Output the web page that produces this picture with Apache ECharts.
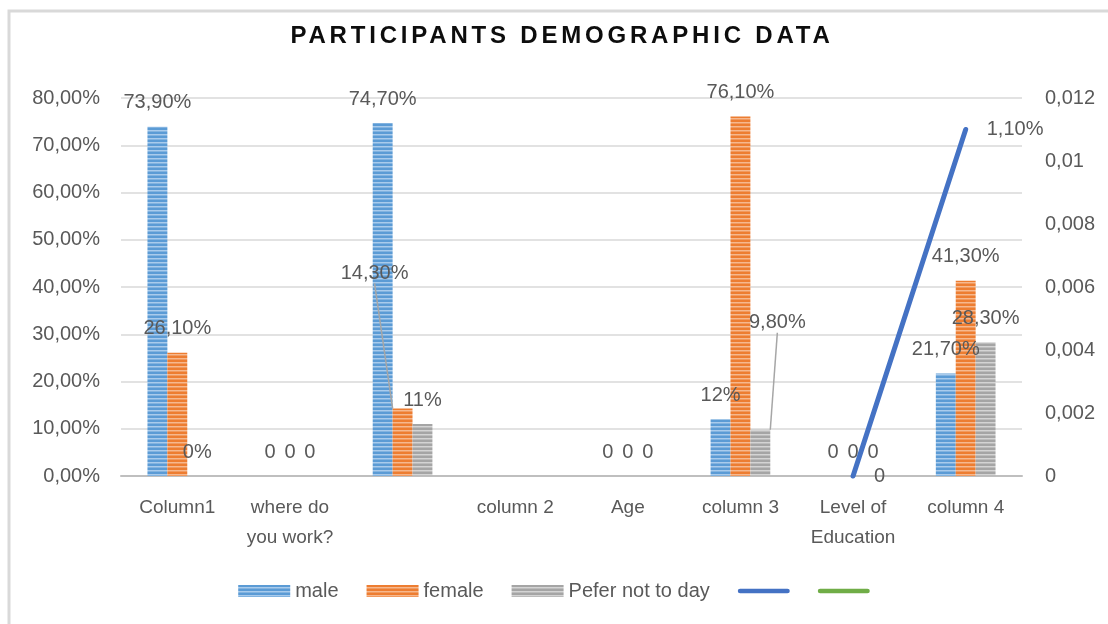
<!DOCTYPE html>
<html>
<head>
<meta charset="utf-8">
<script src="https://cdn.jsdelivr.net/npm/echarts@6/dist/echarts.min.js"></script>
<style>
  html, body { margin: 0; padding: 0; background: #fff; }
  #main { width: 1108px; height: 624px; }
</style>
</head>
<body>
<div id="main"></div>
<script>
const categories = ['Column1', 'where do\nyou work?', '', 'column 2', 'Age', 'column 3', 'Level of\nEducation', 'column 4'];

const male = [0.739, 0, 0.747, null, 0, 0.12, 0, 0.217];
const female = [0.261, 0, 0.143, null, 0, 0.761, 0, 0.413];
const preferNot = [0, 0, 0.11, null, 0, 0.098, 0, 0.283];
const lineVals = [null, null, null, null, null, null, 0, 0.011];

const maleLabels = ['73,90%', '0', '74,70%', '', '0', '12%', '0', '21,70%'];
const femaleLabels = ['26,10%', '0', '14,30%', '', '0', '76,10%', '0', '41,30%'];
const preferLabels = ['0%', '0', '11%', '', '0', '9,80%', '0', '28,30%'];
const lineLabels = ['', '', '', '', '', '', '0', '1,10%'];

const FONT = 'Liberation Sans, Arial, sans-serif';
const TXT = '#595959';

function stripes(base, light) {
    const c = document.createElement('canvas');
    c.width = 4; c.height = 4;
    const ctx = c.getContext('2d');
    ctx.fillStyle = base;
    ctx.fillRect(0, 0, 4, 4);
    ctx.fillStyle = light;
    ctx.fillRect(0, 2, 4, 1.5);
    return { image: c, repeat: 'repeat' };
}

const blueFill = stripes('#5b9bd5', '#a9cbec');
const orangeFill = stripes('#ed7d31', '#f6b88e');
const grayFill = stripes('#a5a5a5', '#d4d4d4');

// labels that Excel pulled away from their bars, with a leader line
const movedLabels = {
    '1-2': { dx: -28, dy: -111 },
    '2-5': { dx: 17, dy: -83 }
};

// thin rounded stroke used as legend icon for the two line series
const lineIcon = 'path://M2.5,0 L53.5,0 A2.5,2.5 0 0 1 53.5,5 L2.5,5 A2.5,2.5 0 0 1 2.5,0 Z';

function barSeries(name, vals, labels, fill, sIdx) {
    return {
        name: name,
        type: 'bar',
        barGap: '0%',
        barCategoryGap: '47%',
        itemStyle: { color: fill },
        data: vals.map((v, i) => {
            const item = { value: v };
            if (movedLabels[sIdx + '-' + i]) {
                item.labelLine = { show: true, showAbove: true, lineStyle: { color: '#a6a6a6', width: 1.5 } };
            }
            return item;
        }),
        label: {
            show: true,
            position: 'top',
            distance: 14,
            color: TXT,
            fontFamily: FONT,
            fontSize: 20,
            formatter: p => labels[p.dataIndex]
        }
    };
}

function lineSeries(name, vals, color) {
    return {
        name: name,
        type: 'line',
        yAxisIndex: 1,
        z: 6,
        clip: false,
        symbol: 'circle',
        symbolSize: 0.1,
        showSymbol: true,
        lineStyle: { color: color, width: 5, cap: 'round' },
        itemStyle: { color: color },
        data: vals,
        label: {
            show: true,
            position: 'right',
            distance: 21,
            color: TXT,
            fontFamily: FONT,
            fontSize: 20,
            formatter: p => lineLabels[p.dataIndex]
        }
    };
}

const chart = echarts.init(document.getElementById('main'));

const option = {
    backgroundColor: '#fff',
    animation: false,
    textStyle: { fontFamily: FONT },
    graphic: [{
        type: 'rect',
        shape: { x: 9, y: 11, width: 1200, height: 700 },
        style: { fill: 'none', stroke: '#d9d9d9', lineWidth: 3 },
        silent: true
    }],
    title: {
        text: 'PARTICIPANTS DEMOGRAPHIC DATA',
        zlevel: 1,
        left: 557,
        top: 19,
        textAlign: 'center',
        textStyle: { fontFamily: FONT, fontSize: 24, fontWeight: 'bold', color: '#0d0d0d' }
    },
    legend: {
        bottom: 18,
        left: 'center',
        itemWidth: 52,
        itemHeight: 12,
        itemGap: 28,
        textStyle: { fontFamily: FONT, fontSize: 20, color: TXT },
        formatter: name => (name.indexOf('Series') === 0 ? '' : name),
        data: [
            { name: 'male', icon: 'rect' },
            { name: 'female', icon: 'rect' },
            { name: 'Pefer not to day', icon: 'rect' },
            { name: 'Series4', icon: lineIcon },
            { name: 'Series5', icon: lineIcon }
        ]
    },
    grid: { left: 121, right: 86, top: 98, bottom: 148 },
    xAxis: {
        type: 'category',
        data: categories,
        axisTick: { show: false },
        axisLine: { lineStyle: { color: '#bfbfbf', width: 2 } },
        axisLabel: {
            interval: 0,
            color: TXT,
            fontFamily: FONT,
            fontSize: 19,
            lineHeight: 30,
            margin: 17
        }
    },
    yAxis: [{
        type: 'value',
        min: 0,
        max: 0.8,
        interval: 0.1,
        axisLine: { show: false },
        axisTick: { show: false },
        splitLine: { lineStyle: { color: '#d9d9d9', width: 1.5 } },
        axisLabel: {
            color: TXT,
            fontFamily: FONT,
            fontSize: 20,
            margin: 21,
            formatter: v => (v * 100).toFixed(2).replace('.', ',') + '%'
        }
    }, {
        type: 'value',
        min: 0,
        max: 0.012,
        interval: 0.002,
        axisLine: { show: false },
        axisTick: { show: false },
        splitLine: { show: false },
        axisLabel: {
            color: TXT,
            fontFamily: FONT,
            fontSize: 20,
            margin: 23,
            formatter: v => String(+v.toFixed(3)).replace('.', ',')
        }
    }],
    series: [
        barSeries('male', male, maleLabels, blueFill, 0),
        barSeries('female', female, femaleLabels, orangeFill, 1),
        barSeries('Pefer not to day', preferNot, preferLabels, grayFill, 2),
        lineSeries('Series4', lineVals, '#4472c4'),
        lineSeries('Series5', [], '#70ad47')
    ],
    labelLayout: function (params) {
        const m = movedLabels[params.seriesIndex + '-' + params.dataIndex];
        return m ? { dx: m.dx, dy: m.dy } : {};
    }
};

chart.setOption(option);

// the title is letter-spaced in the original; it sits on its own canvas layer
const titleLayer = chart.getZr().painter.getLayer && chart.getZr().painter.getLayer(1);
if (titleLayer && titleLayer.ctx) {
    titleLayer.ctx.letterSpacing = '3.8px';
    chart.setOption({ title: { top: 19 } });
}
</script>
</body>
</html>
